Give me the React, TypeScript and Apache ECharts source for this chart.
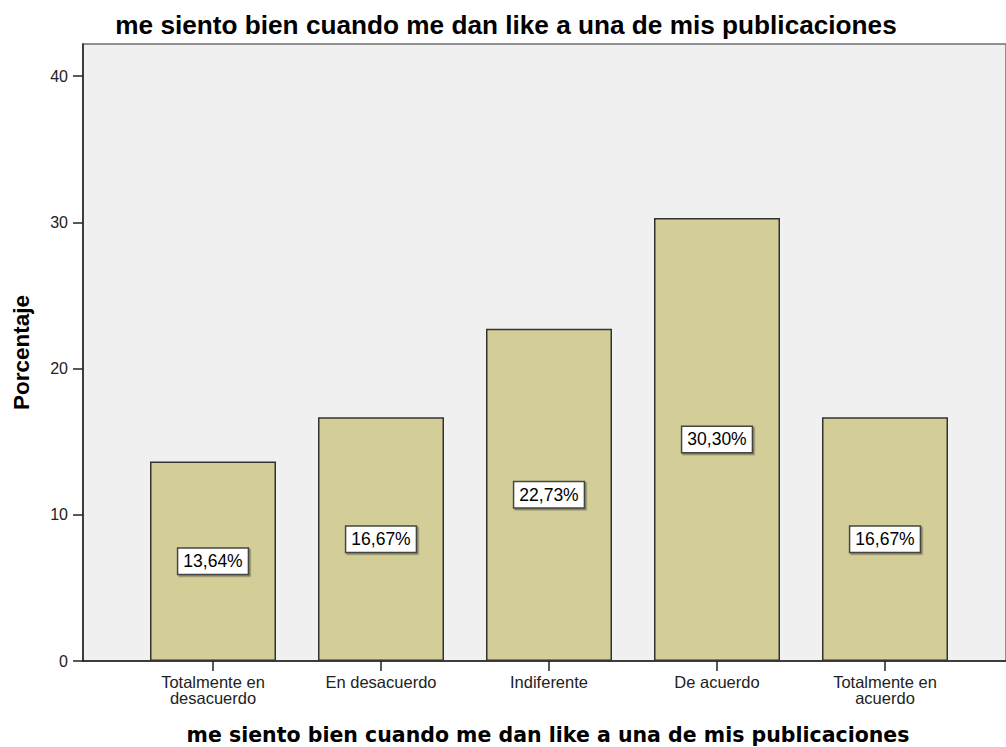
import React, { useEffect, useRef } from "react";
import * as echarts from "echarts";

const categories = ["Totalmente en\ndesacuerdo", "En desacuerdo", "Indiferente", "De acuerdo", "Totalmente en\nacuerdo"];
const values = [13.64, 16.67, 22.73, 30.3, 16.67];
const titleText = "me siento bien cuando me dan like a una de mis publicaciones";
const yTitle = "Porcentaje";

export default function App() {
  const ref = useRef<HTMLDivElement>(null);
  useEffect(() => {
    document.body.style.margin = "0";
    const chart = echarts.init(ref.current!, null, { renderer: "svg" });
    const axisFont = "'Liberation Sans', Arial, sans-serif";
    chart.setOption({
      animation: false,
      backgroundColor: "#ffffff",
      graphic: [
        {
          type: "text",
          x: 506,
          y: 25,
          style: {
            text: titleText,
            font: "bold 26.2px 'Liberation Sans', Arial, sans-serif",
            fill: "#000",
            textAlign: "center",
            textVerticalAlign: "middle",
          },
        },
        {
          type: "text",
          x: 548,
          y: 735,
          style: {
            text: titleText,
            font: "bold 20.5px 'DejaVu Sans', Verdana, sans-serif",
            fill: "#000",
            textAlign: "center",
            textVerticalAlign: "middle",
          },
        },
      ],
      grid: [
        {
          left: 83,
          top: 44,
          right: 0,
          bottom: 86,
          show: true,
          backgroundColor: "#f0f0f0",
          borderColor: "#6e6e6e",
          borderWidth: 1.5,
        },
        {
          left: 129,
          top: 44,
          right: 37,
          bottom: 86,
        },
      ],
      xAxis: [
        {
          gridIndex: 0,
          type: "value",
          min: 0,
          max: 1,
          axisLine: { show: true, lineStyle: { color: "#222", width: 1.5 } },
          axisTick: { show: false },
          axisLabel: { show: false },
          splitLine: { show: false },
        },
        {
          gridIndex: 1,
          type: "category",
          data: categories,
          axisLine: { show: false },
          axisTick: { show: true, alignWithLabel: true, length: 10, lineStyle: { color: "#222", width: 1.5 } },
          axisLabel: {
            fontFamily: axisFont,
            fontSize: 16.5,
            color: "#222",
            lineHeight: 16,
            margin: 13,
            interval: 0,
          },
        },
      ],
      yAxis: [
        {
          gridIndex: 0,
          type: "value",
          min: 0,
          max: 42.2,
          interval: 10,
          name: yTitle,
          nameLocation: "middle",
          nameGap: 50,
          nameRotate: 90,
          nameTextStyle: { fontFamily: axisFont, fontWeight: "bold", fontSize: 22.5, color: "#000" },
          axisLine: { show: true, lineStyle: { color: "#222", width: 1.5 } },
          axisTick: { show: true, length: 10, lineStyle: { color: "#222", width: 1.5 } },
          axisLabel: {
            fontFamily: axisFont,
            fontSize: 16,
            color: "#222",
            margin: 15,
            showMaxLabel: false,
          },
          splitLine: { show: false },
        },
        {
          gridIndex: 1,
          type: "value",
          min: 0,
          max: 42.2,
          interval: 10,
          show: false,
        },
      ],
      series: [
        {
          type: "bar",
          xAxisIndex: 1,
          yAxisIndex: 1,
          data: values,
          barWidth: 126,
          itemStyle: { color: "#d3ce97", borderColor: "#333", borderWidth: 1.5 },
          label: {
            show: true,
            position: "inside",
            formatter: (p: any) => p.value.toFixed(2).replace(".", ",") + "%",
            fontFamily: axisFont,
            fontSize: 17.5,
            color: "#000",
            backgroundColor: "#fff",
            borderColor: "#444",
            borderWidth: 1.5,
            padding: [4, 5, 3, 5],
            shadowColor: "rgba(0,0,0,0.4)",
            shadowOffsetX: 1.5,
            shadowOffsetY: 1.5,
            shadowBlur: 0,
          },
        },
      ],
    });
    return () => chart.dispose();
  }, []);
  return <div ref={ref} style={{ width: 1006, height: 747 }} />;
}
